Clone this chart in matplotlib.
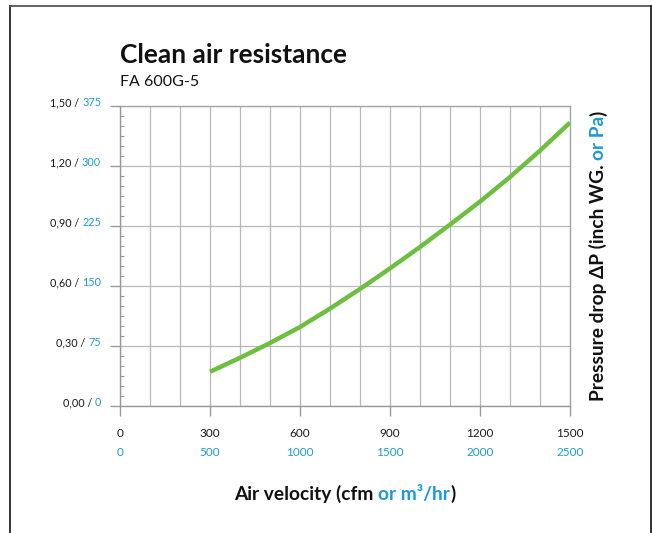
import matplotlib as mpl
mpl.use('Agg')
import matplotlib.pyplot as plt
from matplotlib.lines import Line2D
from matplotlib.ticker import MultipleLocator

# data
cfm = [300, 400, 500, 600, 700, 800, 900, 1000, 1100, 1200, 1300, 1400, 1500]
dp_inch = [0.171, 0.241, 0.315, 0.395, 0.487, 0.585, 0.688, 0.795, 0.907, 1.022, 1.145, 1.277, 1.417]

x_ticks = [0, 300, 600, 900, 1200, 1500]
x_labels_m3 = ['0', '500', '1000', '1500', '2000', '2500']
y_ticks = [0.0, 0.3, 0.6, 0.9, 1.2, 1.5]
y_labels_inch = ['0,00', '0,30', '0,60', '0,90', '1,20', '1,50']
y_labels_pa = ['0', '75', '150', '225', '300', '375']

BLUE = '#1b9ad6'
GREEN = '#6cbf3f'
GRID = '#b8b8b8'
FONT = 'Lato'

W, H = 652, 533
plt.rcParams['font.family'] = [FONT, 'DejaVu Sans']

fig = plt.figure(figsize=(W / 100, H / 100), dpi=100)
ax = fig.add_axes([120 / W, 1 - 406 / H, 450 / W, 300 / H])

ax.plot(cfm, dp_inch, color=GREEN, lw=3.2, solid_capstyle='butt', zorder=3)

ax.set_xlim(0, 1500)
ax.set_ylim(0, 1.5)
ax.set_xticks(x_ticks)
ax.xaxis.set_minor_locator(MultipleLocator(100))
ax.set_yticks(y_ticks)
ax.yaxis.set_minor_locator(MultipleLocator(0.05))
ax.set_xticklabels([])
ax.set_yticklabels([])

ax.tick_params(axis='x', which='major', direction='out', length=7.2, width=1, color='#999999')
ax.tick_params(axis='x', which='minor', length=0)
ax.tick_params(axis='y', which='major', direction='out', length=7.2, width=1, color='#999999')
ax.tick_params(axis='y', which='minor', direction='in', length=3, width=0.8, color='#999999')

ax.grid(True, axis='x', which='both', color=GRID, lw=0.9)
ax.grid(True, axis='y', which='major', color=GRID, lw=0.9)
for s in ax.spines.values():
    s.set_color('#a5a5a5')
    s.set_linewidth(1)
ax.spines['left'].set_color('#999999')
ax.spines['bottom'].set_color('#999999')

renderer = fig.canvas.get_renderer()


def place_pieces(pieces, x, y, align='center', rotation=0, **kw):
    """Place differently coloured pieces of text in a row (pixel coords, y from top)."""
    texts = []
    for s, c in pieces:
        t = fig.text(0, 0, s, color=c, ha='left', va='baseline', rotation=rotation,
                     rotation_mode='anchor', **kw)
        texts.append(t)
    sizes = []
    for t in texts:
        bb = t.get_window_extent(renderer)
        sizes.append(bb.height if rotation else bb.width)
    total = sum(sizes)
    if align == 'center':
        start = -total / 2
    elif align == 'right':
        start = -total
    else:
        start = 0
    pos = start
    for t, sz in zip(texts, sizes):
        if rotation:
            px, py = x, (H - y) + pos
        else:
            px, py = x + pos, H - y
        t.set_position((px / W, py / H))
        pos += sz
    return texts


# y tick labels: inch WG / Pa
for v, a, b in zip(y_ticks, y_labels_inch, y_labels_pa):
    ypix = ax.transData.transform((0, v))[1]
    place_pieces([(a + ' / ', '#1a1a1a'), (b, BLUE)], 101, H - ypix + 0.5,
                 align='right', fontsize=7.8)

# x tick labels: cfm / m3/hr
for v, a, b in zip(x_ticks, [str(t) for t in x_ticks], x_labels_m3):
    xpix = ax.transData.transform((v, 0))[0]
    fig.text(xpix / W, 1 - 437 / H, a, ha='center', va='baseline', fontsize=8.5, color='#1a1a1a')
    fig.text(xpix / W, 1 - 456 / H, b, ha='center', va='baseline', fontsize=8.5, color=BLUE)

# titles
fig.text(120 / W, 1 - 63 / H, 'Clean air resistance', fontsize=18.9, fontweight='bold',
         ha='left', va='baseline', color='#111111')
fig.text(120 / W, 1 - 86 / H, 'FA 600G-5', fontsize=11.5, ha='left', va='baseline',
         color='#111111')

# axis labels
place_pieces([('Air velocity (cfm ', '#111111'), ('or m³/hr', BLUE), (')', '#111111')],
             345, 500, align='center', fontsize=13.8, fontweight='bold')
place_pieces([('Pressure drop ΔP (inch WG. ', '#111111'), ('or Pa', BLUE), (')', '#111111')],
             604, 256, align='center', rotation=90, fontsize=13.8, fontweight='bold')

# frame around the chart
fig.add_artist(Line2D([10 / W, 10 / W], [0, 1 - 6 / H], transform=fig.transFigure, color='#222222', lw=1.3))
fig.add_artist(Line2D([10 / W, 651 / W], [1 - 6 / H, 1 - 6 / H], transform=fig.transFigure, color='#555555', lw=1.3))
fig.add_artist(Line2D([650.5 / W, 650.5 / W], [0, 1 - 6 / H], transform=fig.transFigure, color='#222222', lw=1.3))

fig.savefig('out.png', dpi=100)
